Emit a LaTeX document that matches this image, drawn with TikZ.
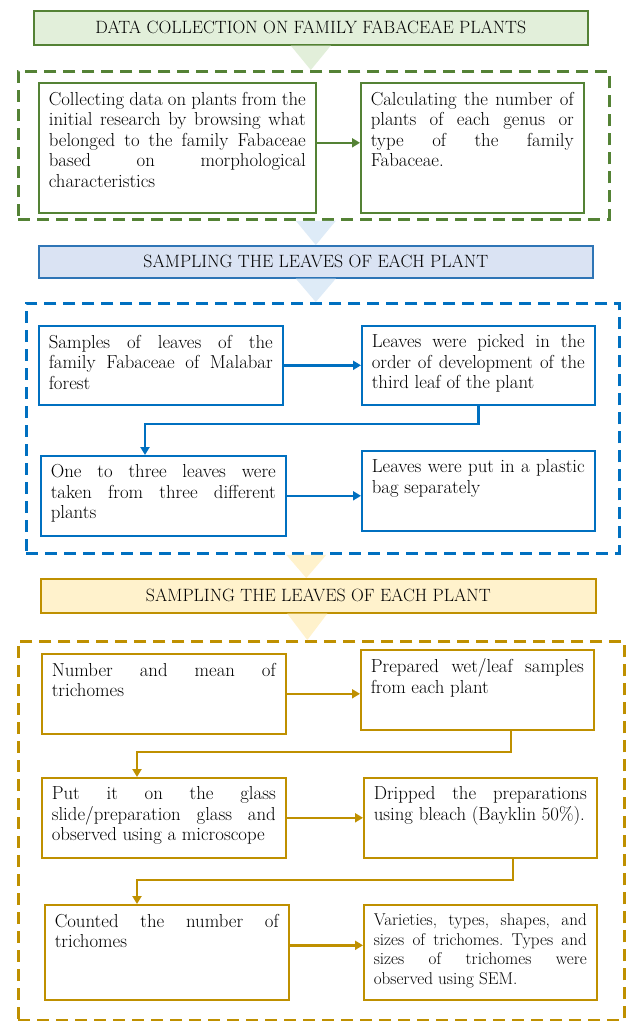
\documentclass[tikz,border=0pt]{standalone}
\definecolor{SoftGreen}{RGB}{226,239,218}
\definecolor{LeafGreen}{RGB}{84,130,53}
\definecolor{SoftBlue}{RGB}{218,227,243}
\definecolor{PaleBlue}{RGB}{222,235,247}
\definecolor{TitleBlue}{RGB}{46,117,182}
\definecolor{SampleBlue}{RGB}{0,112,192}
\definecolor{SoftGold}{RGB}{255,242,204}
\definecolor{TrichGold}{RGB}{191,144,0}
\usetikzlibrary{arrows.meta}
\newcommand{\boxtext}[3]{\parbox[t][#2pt][t]{#1pt}{#3}}

\begin{document}
\begin{tikzpicture}[x=1pt, y=-1pt,
      every node/.style={font=\fontsize{18.8}{20.5}\selectfont\frenchspacing},
      title/.style={draw, line width=1.6pt, minimum width=554pt, minimum height=34pt,
                    inner sep=0pt, anchor=north west, font=\fontsize{17.8}{20}\selectfont},
      stepbox/.style={draw, fill=white, line width=1.6pt, inner xsep=10pt, inner ysep=9pt,
                      anchor=north west},
      frame/.style={draw, line width=2.8pt, dash pattern=on 12pt off 7pt,
                    inner sep=0pt, anchor=north west},
      arr/.style={-{Triangle[length=8pt,width=9pt]}, line width=2.6pt}
  ]
    \useasboundingbox (0,0) rectangle (625,1021);
    \fill[white] (0,0) rectangle (625,1021);

    % data collection
    \node[title, draw=LeafGreen, fill=SoftGreen] (t1) at (33,10)
      {DATA COLLECTION ON FAMILY FABACEAE PLANTS};
    \node[frame, draw=LeafGreen, minimum width=591pt, minimum height=148pt] (gf) at (17,70) {};
    \node[stepbox, draw=LeafGreen] (a1) at (38,82) {\boxtext{257}{112}{Collecting data on plants from the\linebreak
      initial research by browsing what\linebreak belonged to the family Fabaceae\linebreak
      based on morphological\linebreak characteristics}};
    \node[stepbox, draw=LeafGreen] (a2) at (360,82) {\boxtext{203}{112}{Calculating the number of\linebreak
      plants of each genus or\linebreak type of the family\linebreak Fabaceae.}};
    \draw[arr, LeafGreen] ([yshift=5pt]a1.east) -- ([yshift=5pt]a1.east -| a2.west);

    % sampling
    \node[title, draw=TitleBlue, fill=SoftBlue, minimum height=32pt] (t2) at (38,245)
      {SAMPLING THE LEAVES OF EACH PLANT};
    \node[frame, draw=SampleBlue, minimum width=593pt, minimum height=250pt] (bf) at (25,302) {};
    \node[stepbox, draw=SampleBlue] (b1) at (38,325) {\boxtext{224}{61}{Samples of leaves of the\linebreak
      family Fabaceae of Malabar\linebreak forest}};
    \node[stepbox, draw=SampleBlue] (b2) at (361,325) {\boxtext{213}{61}{Leaves were picked in the\linebreak
      order of development of the\linebreak third leaf of the plant}};
    \node[stepbox, draw=SampleBlue] (b3) at (40,455) {\boxtext{225}{62}{One to three leaves were\linebreak
      taken from three different\linebreak plants}};
    \node[stepbox, draw=SampleBlue] (b4) at (361,450) {\boxtext{213}{62}{Leaves were put in a plastic\linebreak
      bag separately}};
    \coordinate (b23) at (145,424);
    \draw[arr, SampleBlue] (b1.east) -- (b1.east -| b2.west);
    \draw[arr, SampleBlue] (b2.south) |- (b23) -- (b23 |- b3.north);
    \draw[arr, SampleBlue] (b3.east) -- (b3.east -| b4.west);

    % trichomes
    \node[title, draw=TrichGold, fill=SoftGold, minimum width=555pt] (t3) at (40,578)
      {SAMPLING THE LEAVES OF EACH PLANT};
    \node[frame, draw=TrichGold, minimum width=606pt, minimum height=379pt] (yf) at (17,640) {};
    \node[stepbox, draw=TrichGold] (c1) at (41,653) {\boxtext{224}{62}{Number and mean of\linebreak trichomes}};
    \node[stepbox, draw=TrichGold] (c2) at (360,649) {\boxtext{213}{62}{Prepared wet/leaf samples\linebreak
      from each plant}};
    \node[stepbox, draw=TrichGold] (c3) at (41,777) {\boxtext{224}{62}{Put it on the glass\linebreak
      slide/preparation glass and\linebreak observed using a microscope}};
    \node[stepbox, draw=TrichGold] (c4) at (363,777) {\boxtext{213}{62}{Dripped the preparations\linebreak
      using bleach (Bayklin 50\%).}};
    \node[stepbox, draw=TrichGold] (c5) at (44,904) {\boxtext{224}{77}{Counted the number of\linebreak trichomes}};
    \node[stepbox, draw=TrichGold, font=\fontsize{17.1}{19.5}\selectfont\frenchspacing] (c6) at (363,904)
      {\boxtext{213}{77}{Varieties, types, shapes, and\linebreak sizes of trichomes. Types and\linebreak
      sizes of trichomes were\linebreak observed using SEM.}};
    \coordinate (c23) at (137,752);
    \coordinate (c45) at (137,880);
    \draw[arr, TrichGold] (c1.east) -- (c1.east -| c2.west);
    \draw[arr, TrichGold] ([xshift=33.5pt]c2.south) |- (c23) -- (c23 |- c3.north);
    \draw[arr, TrichGold] (c3.east) -- (c3.east -| c4.west);
    \draw[arr, TrichGold] ([xshift=32.5pt]c4.south) |- (c45) -- (c45 |- c5.north);
    \draw[arr, TrichGold] ([yshift=7pt]c5.east) -- ([yshift=7pt]c5.east -| c6.west);

    % pointers between the stages
    \fill[SoftGreen] ([xshift=-20pt]t1.south) -- ([xshift=20pt]t1.south) -- (t1.south |- gf.north) -- cycle;
    \coordinate (p2) at (t2.north |- gf.south);
    \fill[PaleBlue] ([xshift=-20pt]p2) -- ([xshift=20pt]p2) -- (t2.north) -- cycle;
    \fill[PaleBlue] ([xshift=-20pt]t2.south) -- ([xshift=20pt]t2.south) -- (t2.south |- bf.north) -- cycle;
    \coordinate (p4) at ([xshift=-12pt]t3.north |- bf.south);
    \fill[SoftGold] ([xshift=-20pt]p4) -- ([xshift=20pt]p4) -- ([xshift=-12pt]t3.north) -- cycle;
    \coordinate (p5) at ([xshift=-11pt]t3.south);
    \fill[SoftGold] ([xshift=-20pt]p5) -- ([xshift=20pt]p5) -- (p5 |- yf.north) -- cycle;
  \end{tikzpicture}
\end{document}
